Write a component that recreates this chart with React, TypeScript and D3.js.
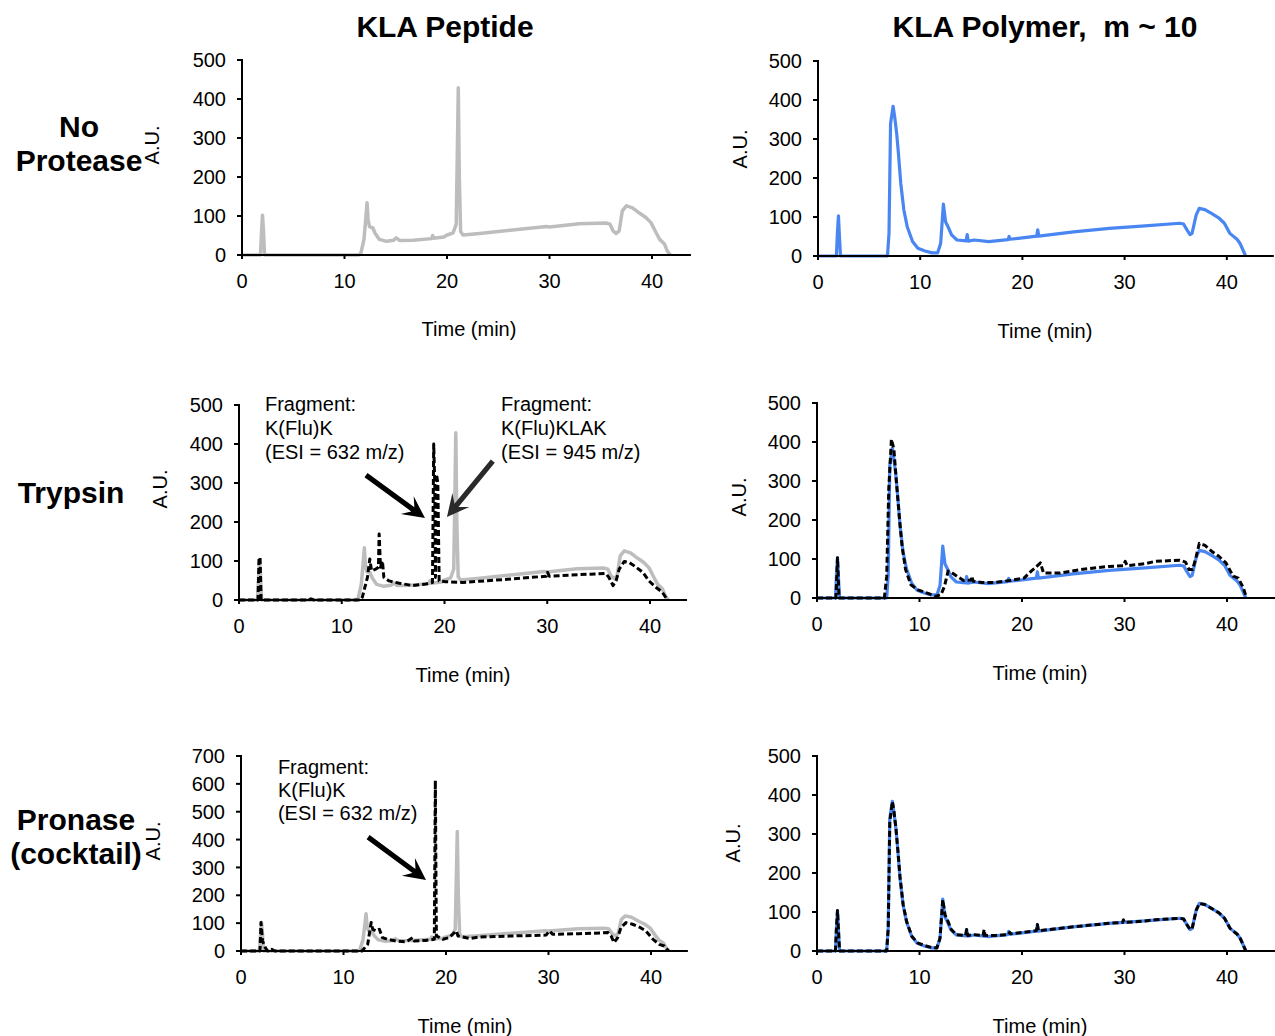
import React from "react";
import * as d3 from "d3";

type Pt = [number, number];

const xTicks = [0, 10, 20, 30, 40];
const yTicks500 = [0, 100, 200, 300, 400, 500];
const yTicks700 = [0, 100, 200, 300, 400, 500, 600, 700];

const columnTitles = ["KLA Peptide", "KLA Polymer,  m ~ 10"];
const rowLabels = [["No", "Protease"], ["Trypsin"], ["Pronase", "(cocktail)"]];

// KLA peptide, no protease (control)
const peptideControl: Pt[] = [
  [0, 0], [1.8, 0], [1.9, 55], [2.0, 102], [2.1, 60], [2.2, 0], [11.4, 0], [11.6, 5], [11.9, 40], [12.1, 100],
  [12.2, 134], [12.3, 90], [12.45, 72], [12.75, 70], [13.0, 55], [13.4, 40], [14.1, 35], [14.8, 38], [15.05, 44],
  [15.4, 37], [16.7, 38], [18.5, 42], [18.6, 50], [18.7, 43], [19.7, 46], [19.9, 50], [20.6, 57], [20.9, 79],
  [21.0, 250], [21.1, 429], [21.2, 200], [21.33, 60], [21.56, 51], [23.2, 55], [26.4, 64], [29.7, 73], [30, 72],
  [32.9, 80], [35.5, 82], [35.9, 79], [36.2, 62], [36.5, 55], [36.8, 62], [37.1, 113], [37.5, 126], [38.1, 121],
  [38.8, 107], [39.4, 96], [39.9, 83], [40.4, 57], [40.75, 40], [41.2, 29], [41.5, 10], [41.8, 0],
];

// KLA polymer, no protease (control)
const polymerControl: Pt[] = [
  [0, 0], [1.8, 0], [1.9, 60], [2.0, 103], [2.1, 50], [2.2, 0], [6.8, 0], [6.95, 60], [7.1, 340], [7.35, 384],
  [7.5, 357], [7.7, 314], [7.87, 263], [8.1, 186], [8.4, 118], [8.73, 75], [9.25, 37], [9.77, 20], [10.47, 13],
  [11.16, 8], [11.7, 8], [12.0, 32], [12.27, 133], [12.48, 88], [12.72, 75], [13.07, 54], [13.6, 41], [14.5, 39],
  [14.6, 55], [14.7, 38], [15.3, 41], [16.7, 37], [18.6, 42], [18.7, 50], [18.8, 43], [20.2, 47], [21.4, 51],
  [21.5, 67], [21.6, 51], [25.0, 62], [28.5, 71], [32.0, 77], [35.4, 84], [35.77, 82], [36.1, 67], [36.4, 55],
  [36.6, 58], [37.0, 105], [37.3, 122], [37.85, 119], [38.5, 109], [39.2, 98], [39.76, 84], [40.3, 58],
  [41.0, 43], [41.3, 32], [41.84, 0],
];

const peptideTrypsin: Pt[] = [
  [0, 0], [1.85, 0], [1.95, 109], [2.05, 109], [2.15, 0], [6.8, 0], [7.0, 3], [7.3, 0], [11.8, 0], [12.0, 7],
  [12.5, 58], [12.73, 105], [12.9, 75], [13.3, 79], [13.57, 84], [13.64, 169], [13.77, 84], [13.96, 100],
  [14.1, 58], [14.6, 49], [15.6, 43], [16.9, 37], [18.2, 41], [18.83, 45], [18.95, 400], [19.05, 300],
  [19.12, 58], [19.22, 322], [19.35, 300], [19.48, 49], [20.1, 47], [21.75, 45], [23.4, 48], [26.6, 54],
  [29.9, 61], [30.03, 71], [30.2, 61], [33.1, 65], [35.7, 68], [36.0, 58], [36.4, 37], [36.7, 49], [37.0, 79],
  [37.5, 99], [38.0, 96], [38.6, 85], [39.3, 71], [39.9, 49], [40.6, 32], [41.2, 20], [41.7, 0],
];

const polymerTrypsin: Pt[] = [
  [0, 0], [1.85, 0], [2.0, 103], [2.15, 0], [6.57, 0], [6.8, 56], [7.0, 279], [7.26, 407], [7.5, 382],
  [7.78, 287], [8.05, 202], [8.3, 133], [8.64, 73], [9.16, 34], [9.85, 21], [10.9, 11], [11.6, 4], [12.1, 9],
  [12.44, 30], [12.79, 69], [13.1, 66], [13.65, 56], [14.3, 45], [15.05, 46], [15.1, 56], [15.24, 43],
  [16.1, 40], [17.46, 40], [18.84, 45], [20.2, 51], [20.9, 69], [21.26, 77], [21.8, 90], [22.1, 64],
  [23.7, 64], [25.75, 73], [28.5, 81], [29.9, 83], [30.07, 94], [30.25, 83], [32.0, 88], [33.0, 94],
  [35.4, 97], [35.95, 92], [36.3, 73], [36.65, 73], [37.0, 107], [37.3, 140], [37.85, 135], [38.5, 120],
  [39.2, 107], [39.9, 90], [40.6, 56], [41.1, 51], [41.6, 26], [41.9, 0],
];

const peptidePronase: Pt[] = [
  [0, 0], [1.85, 0], [1.95, 102], [2.1, 36], [2.37, 12], [2.6, 0], [3.0, 6], [3.3, 0], [11.8, 0], [12.36, 24],
  [12.7, 102], [12.85, 78], [13.2, 72], [13.5, 78], [13.8, 48], [14.3, 42], [15.1, 36], [16.1, 33], [16.75, 48],
  [16.9, 36], [18.0, 38], [18.86, 42], [18.96, 612], [19.06, 54], [19.7, 42], [20.3, 48], [21.0, 72],
  [21.17, 54], [22.3, 45], [23.25, 50], [26.5, 54], [29.76, 57], [30.1, 72], [30.4, 60], [33.0, 62], [35.8, 66],
  [36.1, 54], [36.4, 30], [36.75, 48], [37.07, 84], [37.56, 102], [38.2, 96], [38.86, 86], [39.5, 72],
  [40.2, 42], [40.8, 24], [41.3, 18], [41.7, 0],
];

const polymerPronase: Pt[] = [
  [0, 0], [1.8, 0], [1.9, 60], [2.0, 104], [2.1, 50], [2.2, 0], [6.8, 0], [6.95, 60], [7.1, 330], [7.35, 383],
  [7.5, 360], [7.7, 315], [7.9, 255], [8.1, 190], [8.4, 120], [8.75, 75], [9.25, 38], [9.8, 21], [10.5, 14],
  [11.2, 9], [11.7, 8], [12.0, 33], [12.27, 131], [12.5, 92], [12.75, 78], [13.1, 55], [13.6, 42], [14.5, 40],
  [14.6, 55], [14.7, 40], [15.3, 42], [16.2, 40], [16.3, 55], [16.4, 40], [17.5, 40], [18.7, 42], [18.8, 48],
  [18.9, 44], [20.2, 48], [21.4, 52], [21.5, 68], [21.6, 52], [25.0, 62], [28.5, 71], [29.8, 73], [29.9, 80],
  [30.0, 73], [32.0, 77], [33.0, 80], [35.4, 84], [35.77, 82], [36.1, 67], [36.4, 55], [36.6, 58], [37.0, 105],
  [37.3, 122], [37.85, 119], [38.5, 109], [39.2, 98], [39.76, 84], [40.3, 58], [41.0, 43], [41.3, 32],
  [41.84, 0],
];

const fragmentLeft = ["Fragment:", "K(Flu)K", "(ESI = 632 m/z)"];
const fragmentRight = ["Fragment:", "K(Flu)KLAK", "(ESI = 945 m/z)"];

const FONT = "'Liberation Sans', Arial, Helvetica, sans-serif";
const GRAY = "#bdbdbd";
const BLUE = "#4a86f2";

type Series = { data: Pt[]; kind: "gray" | "blue" | "dash" };
type Arrow = { from: Pt; to: Pt; color: string };
type Note = { at: Pt; lines: string[]; dy: number };

type Panel = {
  x0: number; ppm: number; xMax: number; y0: number; yTop: number; yMax: number; yTicks: number[];
  series: Series[]; au: Pt; time: Pt; arrows?: Arrow[]; notes?: Note[];
};

const panels: Panel[] = [
  { x0: 242, ppm: 10.25, xMax: 43.8, y0: 255, yTop: 60, yMax: 500, yTicks: yTicks500,
    series: [{ data: peptideControl, kind: "gray" }], au: [159, 145], time: [469, 336] },
  { x0: 818, ppm: 10.22, xMax: 44.6, y0: 256, yTop: 61, yMax: 500, yTicks: yTicks500,
    series: [{ data: polymerControl, kind: "blue" }], au: [747, 149], time: [1045, 338] },
  { x0: 239, ppm: 10.275, xMax: 43.6, y0: 600, yTop: 405, yMax: 500, yTicks: yTicks500,
    series: [{ data: peptideControl, kind: "gray" }, { data: peptideTrypsin, kind: "dash" }],
    au: [167, 489], time: [463, 682],
    arrows: [
      { from: [12.36, 320], to: [18.1, 210], color: "#000" },
      { from: [24.7, 356], to: [20.24, 213], color: "#2a2a2a" },
    ],
    notes: [
      { at: [2.53, 484], lines: fragmentLeft, dy: 24 },
      { at: [25.5, 484], lines: fragmentRight, dy: 24 },
    ] },
  { x0: 817, ppm: 10.25, xMax: 44.7, y0: 598, yTop: 403, yMax: 500, yTicks: yTicks500,
    series: [{ data: polymerControl, kind: "blue" }, { data: polymerTrypsin, kind: "dash" }],
    au: [746, 497], time: [1040, 680] },
  { x0: 241, ppm: 10.25, xMax: 43.6, y0: 951, yTop: 756, yMax: 700, yTicks: yTicks700,
    series: [{ data: peptideControl, kind: "gray" }, { data: peptidePronase, kind: "dash" }],
    au: [160, 841], time: [465, 1033],
    arrows: [{ from: [12.4, 409], to: [18.05, 255], color: "#000" }],
    notes: [{ at: [3.6, 634], lines: fragmentLeft, dy: 23 }] },
  { x0: 817, ppm: 10.25, xMax: 44.7, y0: 951, yTop: 756, yMax: 500, yTicks: yTicks500,
    series: [{ data: polymerControl, kind: "blue" }, { data: polymerPronase, kind: "dash" }],
    au: [740, 843], time: [1040, 1033] },
];

function arrowPath(sx: number, sy: number, tx: number, ty: number) {
  const dx = tx - sx, dy = ty - sy;
  const len = Math.hypot(dx, dy);
  const ux = dx / len, uy = dy / len;
  const nx = -uy, ny = ux;
  const w = 2.6, L = 22, H = 11, notch = 7;
  const p = (a: number, b: number) => `${(tx - ux * a + nx * b).toFixed(1)},${(ty - uy * a + ny * b).toFixed(1)}`;
  const pts = [
    `${tx},${ty}`,
    p(L, H),
    p(L - notch, w),
    `${(sx + nx * w).toFixed(1)},${(sy + ny * w).toFixed(1)}`,
    `${(sx - nx * w).toFixed(1)},${(sy - ny * w).toFixed(1)}`,
    p(L - notch, -w),
    p(L, -H),
  ];
  return `M${pts.join("L")}Z`;
}

function PanelView({ p }: { p: Panel }) {
  const x = d3.scaleLinear().domain([0, p.xMax]).range([p.x0, p.x0 + p.xMax * p.ppm]);
  const y = d3.scaleLinear().domain([0, p.yMax]).range([p.y0, p.yTop]);
  const line = d3.line<Pt>().x((d) => x(d[0])).y((d) => y(d[1]));
  return (
    <g>
      {p.series.map((s, i) => (
        <path
          key={i}
          d={line(s.data) || ""}
          fill="none"
          stroke={s.kind === "gray" ? GRAY : s.kind === "blue" ? BLUE : "#000"}
          strokeWidth={s.kind === "gray" ? 3.5 : s.kind === "blue" ? 3.2 : 3}
          strokeDasharray={s.kind === "dash" ? "6,3" : undefined}
          strokeLinejoin="round"
        />
      ))}
      {/* axes */}
      <line x1={p.x0} x2={p.x0} y1={p.yTop - 1} y2={p.y0} stroke="#000" strokeWidth={2} />
      <line x1={p.x0 - 5} x2={x(p.xMax)} y1={p.y0} y2={p.y0} stroke="#000" strokeWidth={2} />
      {p.yTicks.map((t) => (
        <g key={"y" + t}>
          <line x1={p.x0 - 5} x2={p.x0} y1={y(t)} y2={y(t)} stroke="#000" strokeWidth={2} />
          <text x={p.x0 - 16} y={y(t)} dy="0.36em" textAnchor="end" fontSize={20} fontFamily={FONT}>{t}</text>
        </g>
      ))}
      {xTicks.map((t) => (
        <g key={"x" + t}>
          <line x1={x(t)} x2={x(t)} y1={p.y0} y2={p.y0 + 4} stroke="#000" strokeWidth={2} />
          <text x={x(t)} y={p.y0 + 33} textAnchor="middle" fontSize={20} fontFamily={FONT}>{t}</text>
        </g>
      ))}
      <text transform={`translate(${p.au[0]},${p.au[1]}) rotate(-90)`} textAnchor="middle" fontSize={20} fontFamily={FONT}>A.U.</text>
      <text x={p.time[0]} y={p.time[1]} textAnchor="middle" fontSize={20} fontFamily={FONT}>Time (min)</text>
      {(p.arrows || []).map((a, i) => (
        <path key={"a" + i} d={arrowPath(x(a.from[0]), y(a.from[1]), x(a.to[0]), y(a.to[1]))} fill={a.color} />
      ))}
      {(p.notes || []).map((n, i) => (
        <text key={"n" + i} fontSize={20} fontFamily={FONT}>
          {n.lines.map((l, j) => (
            <tspan key={j} x={x(n.at[0])} y={y(n.at[1]) + j * n.dy}>{l}</tspan>
          ))}
        </text>
      ))}
    </g>
  );
}

export default function App() {
  const titleX = [445, 1045];
  const rowPos = [[[79, 137], [79, 171]], [[71, 503]], [[76, 830], [76, 864]]];
  return (
    <svg width={1275} height={1036} style={{ position: "absolute", left: 0, top: 0, background: "#fff" }}>
      <rect width={1275} height={1036} fill="#fff" />
      {columnTitles.map((t, i) => (
        <text key={t} x={titleX[i]} y={37} textAnchor="middle" fontSize={30} fontWeight="bold" fontFamily={FONT} style={{ whiteSpace: "pre" }}>{t}</text>
      ))}
      {rowLabels.map((lines, i) =>
        lines.map((l, j) => (
          <text key={l} x={rowPos[i][j][0]} y={rowPos[i][j][1]} textAnchor="middle" fontSize={30} fontWeight="bold" fontFamily={FONT}>{l}</text>
        ))
      )}
      {panels.map((p, i) => <PanelView key={i} p={p} />)}
    </svg>
  );
}
